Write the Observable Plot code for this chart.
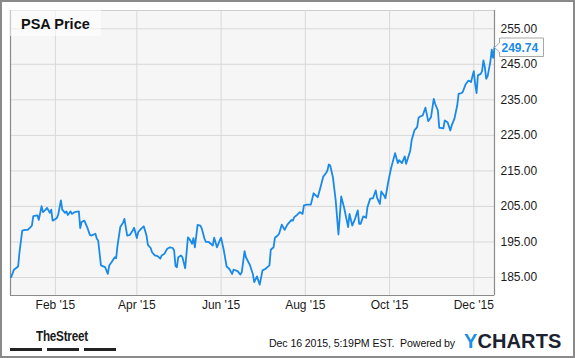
<!DOCTYPE html>
<html><head><meta charset="utf-8">
<script src="https://cdn.jsdelivr.net/npm/d3@7"></script>
<script src="https://cdn.jsdelivr.net/npm/@observablehq/plot@0.6"></script>
<style>
body{margin:0;background:#fff;font-family:"Liberation Sans",Arial,sans-serif;}
#wrap{position:relative;width:575px;height:358px;overflow:hidden;background:#fff;}
#chart{position:absolute;left:0;top:0;}
#outer{position:absolute;left:0;top:0;width:575px;height:358px;box-sizing:border-box;border:2px solid #8a8a8a;pointer-events:none;}
#titlebox{position:absolute;left:10px;top:10px;width:91px;height:26px;background:rgba(255,255,255,0.55);}
#title{position:absolute;left:11px;top:6.7px;font-size:14.5px;line-height:1;font-weight:bold;color:#111;white-space:nowrap;}
#street{position:absolute;left:36px;top:328px;font-size:15px;line-height:1;font-weight:bold;color:#1a1a1a;transform:scaleX(0.78);transform-origin:left;letter-spacing:-0.3px;white-space:nowrap;}
.bar{position:absolute;top:348px;height:3px;width:32px;background:#222;}
#stamp{position:absolute;left:269px;top:338px;font-size:10.6px;line-height:1;color:#111;white-space:nowrap;letter-spacing:-0.1px;}
#ycharts{position:absolute;left:464px;top:330.8px;font-size:20px;line-height:1;font-weight:bold;color:#1c2230;letter-spacing:0.1px;white-space:nowrap;}
#ycharts span{color:#1a8fe8;}
</style>
</head><body>
<div id="wrap">
  <div id="chart"></div>
  <div id="titlebox"><div id="title">PSA Price</div></div>
  <div id="street">TheStreet</div>
  <div class="bar" style="left:10px"></div>
  <div class="bar" style="left:47px"></div>
  <div class="bar" style="left:84px"></div>
  <div id="stamp">Dec 16 2015, 5:19PM EST.&nbsp; Powered by</div>
  <div id="ycharts"><span>Y</span>CHARTS</div>
  <div id="outer"></div>
</div>
<script>
const dates = [
"2014-12-31","2015-01-02","2015-01-05","2015-01-06","2015-01-08","2015-01-10","2015-01-12","2015-01-14","2015-01-15","2015-01-16","2015-01-19","2015-01-20","2015-01-22","2015-01-23","2015-01-25","2015-01-26","2015-01-28","2015-01-29","2015-01-30",
"2015-02-02","2015-02-03","2015-02-05","2015-02-06","2015-02-08","2015-02-09","2015-02-10","2015-02-12","2015-02-13","2015-02-15","2015-02-18","2015-02-19","2015-02-20","2015-02-22","2015-02-24","2015-02-26","2015-02-27",
"2015-03-02","2015-03-03","2015-03-04","2015-03-06","2015-03-09","2015-03-11","2015-03-12","2015-03-14","2015-03-16","2015-03-17","2015-03-18","2015-03-20","2015-03-22","2015-03-23","2015-03-25","2015-03-27","2015-03-29","2015-03-30",
"2015-04-01","2015-04-02","2015-04-04","2015-04-06","2015-04-08","2015-04-09","2015-04-11","2015-04-12","2015-04-14","2015-04-16","2015-04-18","2015-04-19","2015-04-21","2015-04-23","2015-04-25","2015-04-27","2015-04-28","2015-04-29","2015-04-30",
"2015-05-01","2015-05-03","2015-05-04","2015-05-06","2015-05-08","2015-05-09","2015-05-11","2015-05-12","2015-05-13","2015-05-15","2015-05-17","2015-05-18","2015-05-20","2015-05-21","2015-05-23","2015-05-26","2015-05-27","2015-05-29","2015-05-31",
"2015-06-01","2015-06-03","2015-06-05","2015-06-07","2015-06-09","2015-06-10","2015-06-13","2015-06-15","2015-06-16","2015-06-18","2015-06-19","2015-06-22","2015-06-24","2015-06-25","2015-06-27","2015-06-29",
"2015-07-01","2015-07-03","2015-07-06","2015-07-07","2015-07-09","2015-07-10","2015-07-12","2015-07-13","2015-07-15","2015-07-17","2015-07-19","2015-07-22","2015-07-23","2015-07-24","2015-07-26","2015-07-28","2015-07-30","2015-07-31",
"2015-08-02","2015-08-05","2015-08-07","2015-08-08","2015-08-10","2015-08-12","2015-08-14","2015-08-16","2015-08-17","2015-08-18","2015-08-19","2015-08-21","2015-08-23","2015-08-25","2015-08-27","2015-08-29",
"2015-09-01","2015-09-02","2015-09-04","2015-09-06","2015-09-08","2015-09-09","2015-09-10","2015-09-12","2015-09-14","2015-09-15","2015-09-17","2015-09-19","2015-09-21","2015-09-22","2015-09-24","2015-09-25","2015-09-27","2015-09-28","2015-09-30",
"2015-10-02","2015-10-05","2015-10-07","2015-10-08","2015-10-10","2015-10-12","2015-10-13","2015-10-16","2015-10-17","2015-10-19","2015-10-21","2015-10-22","2015-10-23","2015-10-25","2015-10-27","2015-10-29","2015-10-31",
"2015-11-02","2015-11-03","2015-11-05","2015-11-06","2015-11-07","2015-11-09","2015-11-10","2015-11-12","2015-11-14","2015-11-15","2015-11-17","2015-11-19","2015-11-20","2015-11-22","2015-11-23","2015-11-25","2015-11-27","2015-11-28","2015-11-29",
"2015-12-01","2015-12-02","2015-12-03","2015-12-04","2015-12-06","2015-12-07","2015-12-08","2015-12-09","2015-12-10","2015-12-11","2015-12-13","2015-12-14","2015-12-15","2015-12-16"
];
const prices = [
185.1,187.2,188.1,192.1,198.2,198.4,198.4,199.2,199.6,202.3,202.5,201.2,205.1,203.4,204.1,204.6,203.2,204.1,201.0,
201.7,202.6,206.7,204.1,203.2,203.6,202.6,203.6,202.9,203.4,203.6,198.9,200.6,201.0,199.2,197.0,196.8,
197.3,195.9,195.4,188.4,187.9,186.0,188.4,189.5,190.7,190.4,194.0,199.2,200.4,201.5,196.8,197.0,198.2,199.0,
196.1,197.8,198.7,199.4,196.8,194.2,193.3,192.1,191.2,191.0,190.3,191.2,191.7,193.1,193.5,193.3,192.6,188.2,187.9,
190.7,191.2,190.7,187.6,196.3,195.9,194.5,196.1,193.5,199.8,199.6,198.8,195.9,195.0,195.0,194.0,196.2,193.5,195.4,
196.2,192.6,188.1,187.4,186.0,187.2,186.8,185.8,186.5,192.4,190.7,188.4,186.0,183.7,185.3,183.0,
187.0,187.4,188.4,192.8,193.5,196.2,196.8,197.3,199.9,198.4,199.9,201.2,201.0,202.0,202.6,203.4,202.9,205.3,
205.5,205.5,208.7,208.3,207.6,210.4,213.4,214.4,215.1,216.8,216.5,213.2,206.7,197.1,207.8,204.8,
199.2,202.9,199.6,201.5,203.9,200.1,200.1,202.2,201.8,204.8,207.2,207.3,209.5,207.4,205.7,209.2,208.1,207.3,211.8,
215.6,220.0,217.2,218.0,217.2,219.1,217.0,220.7,223.6,226.4,227.3,229.9,230.3,230.6,232.8,229.0,230.1,
235.3,233.9,232.0,227.1,227.1,227.0,229.2,228.7,226.4,227.8,229.7,233.4,236.7,236.9,237.2,239.3,240.4,240.3,240.0,
243.1,239.5,236.9,241.9,242.3,243.1,246.1,244.2,240.9,241.6,245.7,249.1,246.8,249.74
];
const xTickDates = ["2015-02-01","2015-04-01","2015-06-01","2015-08-01","2015-10-01","2015-12-01"];
const xTickLabels = ["Feb '15","Apr '15","Jun '15","Aug '15","Oct '15","Dec '15"];
const yTicks = [185,195,205,215,225,235,245,255];
const xDomainDates = ["2014-12-30","2015-12-16"];
const yDomain = [179.93, 260.15];
const lastLabel = "249.74";

const parse = d3.utcParse("%Y-%m-%d");
const data = dates.map((d, i) => ({date: parse(d), price: prices[i]}));
const xt = xTickDates.map(parse);
const xd = [new Date(parse(xDomainDates[0]).getTime() + 12*3600*1000), parse(xDomainDates[1])];
const last = data[data.length - 1];
const BLUE = "#1a8ae8";

const valueTag = (index, scales, values, dimensions) => {
  const y = Math.round(scales.y(last.price)) + 0.5;
  const x0 = dimensions.width - dimensions.marginRight;
  const g = d3.create("svg:g");
  const L = x0 + 5.5, R = x0 + 49.5, T = y - 9.5, B = y + 9;
  g.append("path")
    .attr("d", `M${x0+0.5},${y} L${L},${y-4.5} L${L},${T} L${R},${T} L${R},${B} L${L},${B} L${L},${y+4.5} Z`)
    .attr("fill", "#fff").attr("stroke", "#a8a8a8").attr("stroke-width", 1);
  g.append("text")
    .attr("x", x0 + 7.5).attr("y", y + 4.5)
    .attr("text-anchor", "start")
    .attr("fill", BLUE).attr("font-weight", "bold").attr("font-size", 12)
    .text(lastLabel);
  return g.node();
};

const chart = Plot.plot({
  width: 575,
  height: 358,
  marginLeft: 10,
  marginTop: 10,
  marginRight: 81,
  marginBottom: 63,
  style: {fontFamily: '"Liberation Sans", Arial, sans-serif', fontSize: "12px", color: "#1a1a1a", background: "transparent"},
  x: {type: "utc", domain: xd, ticks: xt, tickFormat: (d) => xTickLabels[xt.findIndex(t => +t === +d)], tickSize: 0, tickPadding: 5, label: null},
  y: {domain: yDomain, axis: "right", ticks: yTicks, tickFormat: (d) => d.toFixed(2), tickSize: 0, tickPadding: 6, label: null},
  marks: [
    Plot.frame({fill: "#f6f6f6", stroke: "#cfcfcf"}),
    Plot.ruleX(xt, {stroke: "#d8d8d8", strokeWidth: 1}),
    Plot.ruleY(yTicks, {stroke: "#d8d8d8", strokeWidth: 1}),
    Plot.ruleX(xd, {stroke: "#8a8a8a", strokeWidth: 1.2}),
    Plot.ruleY([yDomain[0]], {stroke: "#8a8a8a", strokeWidth: 1.2}),
    Plot.line(data, {x: "date", y: "price", stroke: BLUE, strokeWidth: 1.8, strokeLinejoin: "round"}),
    valueTag
  ]
});
document.getElementById("chart").appendChild(chart);
</script>
</body></html>
